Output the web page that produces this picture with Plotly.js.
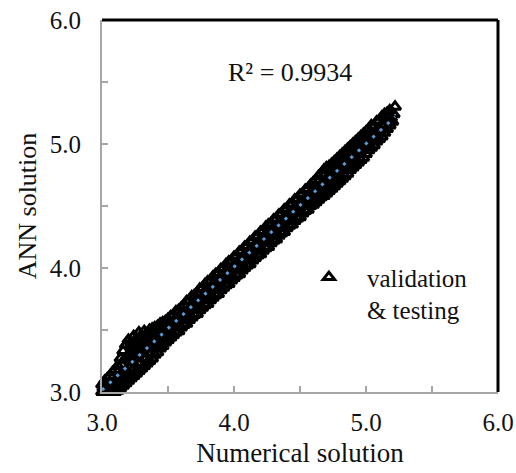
<!DOCTYPE html>
<html>
<head>
<meta charset="utf-8">
<script src="https://cdn.plot.ly/plotly-3.0.1.min.js"></script>
<style>
  html, body { margin: 0; padding: 0; background: #fff; }
  #chart { width: 516px; height: 473px; }
</style>
</head>
<body>
<div id="chart"></div>
<script>
// Numerical solution (x) against ANN prediction (y), validation & testing set
const numerical = [
  3.00,3.01,3.00, 3.02,3.03,3.02, 3.04,3.05,3.04, 3.06,3.07,3.06,
  3.08,3.09,3.08, 3.10,3.11,3.10, 3.12,3.13,3.12, 3.14,3.15,3.14,
  3.16,3.17,3.16, 3.18,3.19,3.18, 3.20,3.21,3.20, 3.22,3.23,3.22,
  3.24,3.25,3.24, 3.26,3.27,3.26, 3.28,3.29,3.28, 3.30,3.31,3.30,
  3.32,3.33,3.32, 3.34,3.35,3.34, 3.36,3.37,3.36, 3.38,3.39,3.38,
  3.40,3.41,3.40, 3.42,3.43,3.42, 3.44,3.45,3.44, 3.46,3.47,3.46,
  3.48,3.49,3.48, 3.50,3.51,3.50, 3.52,3.53,3.52, 3.54,3.55,3.54,
  3.56,3.57,3.56, 3.58,3.59,3.58, 3.60,3.61,3.60, 3.62,3.63,3.62,
  3.64,3.65,3.64, 3.66,3.67,3.66, 3.68,3.69,3.68, 3.70,3.71,3.70,
  3.72,3.73,3.72, 3.74,3.75,3.74, 3.76,3.77,3.76, 3.78,3.79,3.78,
  3.80,3.81,3.80, 3.82,3.83,3.82, 3.84,3.85,3.84, 3.86,3.87,3.86,
  3.88,3.89,3.88, 3.90,3.91,3.90, 3.92,3.93,3.92, 3.94,3.95,3.94,
  3.96,3.97,3.96, 3.98,3.99,3.98, 4.00,4.01,4.00, 4.02,4.03,4.02,
  4.04,4.05,4.04, 4.06,4.07,4.06, 4.08,4.09,4.08, 4.10,4.11,4.10,
  4.12,4.13,4.12, 4.14,4.15,4.14, 4.16,4.17,4.16, 4.18,4.19,4.18,
  4.20,4.21,4.20, 4.22,4.23,4.22, 4.24,4.25,4.24, 4.26,4.27,4.26,
  4.28,4.29,4.28, 4.30,4.31,4.30, 4.32,4.33,4.32, 4.34,4.35,4.34,
  4.36,4.37,4.36, 4.38,4.39,4.38, 4.40,4.41,4.40, 4.42,4.43,4.42,
  4.44,4.45,4.44, 4.46,4.47,4.46, 4.48,4.49,4.48, 4.50,4.51,4.50,
  4.52,4.53,4.52, 4.54,4.55,4.54, 4.56,4.57,4.56, 4.58,4.59,4.58,
  4.60,4.61,4.60, 4.62,4.63,4.62, 4.64,4.65,4.64, 4.66,4.67,4.66,
  4.68,4.69,4.68, 4.70,4.71,4.70, 4.72,4.73,4.72, 4.74,4.75,4.74,
  4.76,4.77,4.76, 4.78,4.79,4.78, 4.80,4.81,4.80, 4.82,4.83,4.82,
  4.84,4.85,4.84, 4.86,4.87,4.86, 4.88,4.89,4.88, 4.90,4.91,4.90,
  4.92,4.93,4.92, 4.94,4.95,4.94, 4.96,4.97,4.96, 4.98,4.99,4.98,
  5.00,5.01,5.00, 5.02,5.03,5.02, 5.04,5.05,5.04, 5.06,5.07,5.06,
  5.08,5.09,5.08, 5.10,5.11,5.10, 5.12,5.13,5.12, 5.14,5.15,5.14,
  5.16,5.17,5.16, 5.18,5.19,5.18, 5.20,5.21,5.22,
  3.15,3.17,3.19,3.21,3.23,3.25,3.27,3.29,3.31,3.33,3.35,3.37,3.39,3.41,3.43,3.45,
  3.16,3.20,3.24,3.28,3.32,3.36,3.40,3.44
];

const ann = [
  3.00,3.03,3.06, 2.99,3.04,3.09, 3.00,3.05,3.11, 2.99,3.06,3.13,
  3.00,3.07,3.16, 3.00,3.09,3.18, 3.01,3.10,3.21, 3.03,3.13,3.27,
  3.05,3.15,3.33, 3.07,3.17,3.38, 3.09,3.20,3.42, 3.11,3.24,3.40,
  3.13,3.27,3.45, 3.15,3.29,3.43, 3.17,3.31,3.48, 3.19,3.33,3.45,
  3.21,3.35,3.49, 3.23,3.37,3.47, 3.25,3.40,3.50, 3.27,3.42,3.51,
  3.30,3.44,3.52, 3.32,3.45,3.53, 3.35,3.47,3.55, 3.37,3.48,3.56,
  3.40,3.49,3.57, 3.42,3.51,3.59, 3.44,3.53,3.61, 3.46,3.55,3.62,
  3.48,3.57,3.65, 3.49,3.59,3.66, 3.52,3.61,3.68, 3.54,3.63,3.70,
  3.55,3.65,3.73, 3.58,3.67,3.74, 3.60,3.69,3.77, 3.62,3.71,3.78,
  3.63,3.73,3.80, 3.66,3.75,3.83, 3.68,3.77,3.84, 3.70,3.79,3.87,
  3.71,3.81,3.89, 3.74,3.83,3.90, 3.76,3.85,3.93, 3.78,3.87,3.95,
  3.79,3.89,3.96, 3.82,3.91,3.99, 3.84,3.93,4.00, 3.86,3.95,4.03,
  3.87,3.97,4.05, 3.90,3.99,4.06, 3.92,4.01,4.09, 3.94,4.03,4.10,
  3.95,4.05,4.13, 3.98,4.07,4.14, 4.00,4.09,4.17, 4.02,4.11,4.18,
  4.03,4.13,4.21, 4.06,4.15,4.22, 4.08,4.17,4.25, 4.10,4.19,4.26,
  4.11,4.21,4.29, 4.14,4.23,4.30, 4.16,4.25,4.33, 4.17,4.27,4.35,
  4.20,4.29,4.36, 4.22,4.31,4.39, 4.23,4.33,4.40, 4.26,4.35,4.43,
  4.28,4.37,4.44, 4.29,4.39,4.47, 4.32,4.41,4.48, 4.34,4.43,4.51,
  4.35,4.45,4.52, 4.38,4.47,4.55, 4.40,4.49,4.56, 4.41,4.51,4.59,
  4.44,4.53,4.60, 4.46,4.55,4.63, 4.47,4.57,4.64, 4.50,4.59,4.67,
  4.51,4.61,4.69, 4.53,4.63,4.71, 4.55,4.65,4.74, 4.57,4.67,4.76,
  4.58,4.69,4.79, 4.60,4.71,4.81, 4.62,4.73,4.82, 4.64,4.75,4.84,
  4.66,4.77,4.86, 4.68,4.79,4.88, 4.70,4.81,4.90, 4.72,4.83,4.92,
  4.74,4.85,4.94, 4.76,4.87,4.96, 4.79,4.89,4.98, 4.81,4.91,5.00,
  4.83,4.93,5.02, 4.85,4.95,5.04, 4.87,4.97,5.06, 4.89,4.99,5.08,
  4.92,5.01,5.10, 4.95,5.03,5.12, 4.97,5.05,5.15, 4.99,5.07,5.14,
  5.02,5.09,5.18, 5.04,5.11,5.19, 5.06,5.14,5.22, 5.09,5.16,5.24,
  5.12,5.19,5.25, 5.15,5.21,5.27, 5.18,5.24,5.30,
  3.22,3.26,3.29,3.31,3.33,3.35,3.37,3.39,3.41,3.43,3.45,3.46,3.48,3.49,3.51,3.53,
  3.11,3.15,3.19,3.23,3.27,3.31,3.35,3.39
];

const axisTicks = [3, 4, 5, 6];
const seriesName = 'validation<br>& testing';
const fitLabel = 'R² = 0.9934';

// Least-squares linear trendline through the points
function linearFit(xs, ys) {
  const n = xs.length;
  let sx = 0, sy = 0, sxx = 0, sxy = 0;
  for (let i = 0; i < n; i++) {
    sx += xs[i]; sy += ys[i];
    sxx += xs[i] * xs[i]; sxy += xs[i] * ys[i];
  }
  const slope = (n * sxy - sx * sy) / (n * sxx - sx * sx);
  const intercept = (sy - slope * sx) / n;
  return { slope, intercept };
}
const fit = linearFit(numerical, ann);
const xMin = Math.min(...numerical);
const xMax = Math.max(...numerical);
const trendX = [xMin, xMax];
const trendY = trendX.map(v => fit.intercept + fit.slope * v);

const serif = 'Liberation Serif';
const gray = '#a6a6a6';
const ink = '#111';

const traces = [
  {
    x: numerical, y: ann,
    type: 'scatter', mode: 'markers',
    name: seriesName,
    cliponaxis: false,
    marker: { symbol: 'triangle-up-open', size: 10, color: '#000',
              line: { width: 3, color: '#000' } }
  },
  {
    x: trendX, y: trendY,
    type: 'scatter', mode: 'lines',
    showlegend: false, hoverinfo: 'skip',
    line: { color: '#5b9bd5', width: 3, dash: '3px,7px' }
  }
];

function axis(title, titleSize, titleStandoff, labelStandoff) {
  return {
    range: [3, 6],
    tickvals: axisTicks,
    tickformat: '.1f',
    showline: true, linecolor: gray, linewidth: 2,
    ticks: 'inside', ticklen: 6, tickcolor: gray, tickwidth: 1.5,
    minor: { dtick: 0.5, tick0: 3, ticks: 'inside', ticklen: 6,
             tickcolor: gray, tickwidth: 1.5 },
    showgrid: false, zeroline: false,
    tickfont: { family: serif, size: 25, color: ink },
    ticklabelstandoff: labelStandoff,
    title: { text: title, standoff: titleStandoff,
             font: { family: serif, size: titleSize, color: ink } }
  };
}

const layout = {
  width: 516, height: 473,
  margin: { l: 102, r: 18, t: 20, b: 81 },
  paper_bgcolor: '#fff', plot_bgcolor: '#fff',
  font: { family: serif, color: ink },
  xaxis: axis('Numerical solution', 27, 8, 7),
  yaxis: axis('ANN solution', 26, 6, 14),
  showlegend: true,
  legend: {
    x: 0.477, y: 0.37, xanchor: 'left', yanchor: 'top',
    bgcolor: 'rgba(0,0,0,0)', valign: 'top', itemwidth: 66,
    font: { family: serif, size: 25, color: ink }
  },
  annotations: [
    { x: 0.475, y: 0.86, xref: 'paper', yref: 'paper', yanchor: 'middle',
      text: fitLabel, showarrow: false,
      font: { family: serif, size: 26, color: ink } }
  ],
  shapes: [
    { type: 'line', xref: 'paper', yref: 'paper', x0: 0, x1: 1, y0: 1, y1: 1,
      line: { color: '#000', width: 3 } },
    { type: 'line', xref: 'paper', yref: 'paper', x0: 1, x1: 1, y0: 0, y1: 1,
      line: { color: '#000', width: 3 } }
  ]
};

Plotly.newPlot('chart', traces, layout, { displayModeBar: false, staticPlot: true });
</script>
</body>
</html>
